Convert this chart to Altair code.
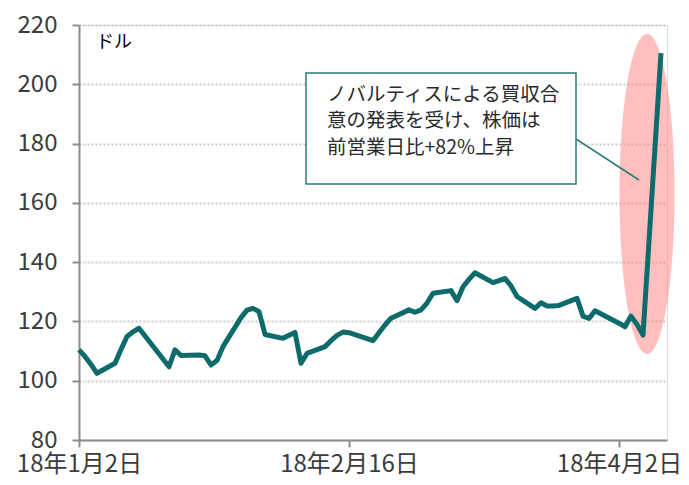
import altair as alt
import pandas as pd

# ---- data ----
dates = [
    "2018-01-02", "2018-01-03", "2018-01-04", "2018-01-05", "2018-01-08",
    "2018-01-09", "2018-01-10", "2018-01-11", "2018-01-12", "2018-01-16",
    "2018-01-17", "2018-01-18", "2018-01-19", "2018-01-22", "2018-01-23",
    "2018-01-24", "2018-01-25", "2018-01-26", "2018-01-29", "2018-01-30",
    "2018-01-31", "2018-02-01", "2018-02-02", "2018-02-05", "2018-02-06",
    "2018-02-07", "2018-02-08", "2018-02-09", "2018-02-12", "2018-02-13",
    "2018-02-14", "2018-02-15", "2018-02-16", "2018-02-20", "2018-02-21",
    "2018-02-22", "2018-02-23", "2018-02-26", "2018-02-27", "2018-02-28",
    "2018-03-01", "2018-03-02", "2018-03-05", "2018-03-06", "2018-03-07",
    "2018-03-08", "2018-03-09", "2018-03-12", "2018-03-13", "2018-03-14",
    "2018-03-15", "2018-03-16", "2018-03-19", "2018-03-20", "2018-03-21",
    "2018-03-22", "2018-03-23", "2018-03-26", "2018-03-27", "2018-03-28",
    "2018-03-29", "2018-04-02", "2018-04-03", "2018-04-04", "2018-04-05",
    "2018-04-06", "2018-04-09",
]
prices = [
    110.4, 108.2, 105.5, 102.5, 105.9,
    110.5, 114.9, 116.5, 117.7, 107.3,
    104.7, 110.4, 108.5, 108.7, 108.4,
    105.3, 106.8, 111.5, 121.3, 123.8,
    124.4, 123.3, 115.6, 114.3, 115.3,
    116.3, 105.9, 109.2, 111.5, 113.5,
    115.3, 116.4, 116.2, 113.5, 116.2,
    118.8, 121.1, 123.9, 123.1, 123.9,
    126.2, 129.5, 130.4, 127.0, 131.7,
    134.2, 136.4, 133.1, 133.8, 134.5,
    132.0, 128.4, 124.4, 126.3, 125.2,
    125.2, 125.4, 127.8, 121.8, 121.0,
    123.6, 119.4, 118.2, 121.8, 119.0,
    115.4, 210.5,
]
x_tick_dates = ["2018-01-02", "2018-02-16", "2018-04-02"]
x_domain_dates = ["2018-01-02", "2018-04-10"]
y_ticks = [80, 100, 120, 140, 160, 180, 200, 220]
unit_label = "ドル"
note_lines = ["ノバルティスによる買収合", "意の発表を受け、株価は", "前営業日比+82%上昇"]

# ---- styling ----
TEAL = "#0e6b6c"
BOX_TEAL = "#2d7b79"
FONT = "Noto Sans CJK JP"
W, H = 588, 415


def ms(d):
    return int(pd.Timestamp(d, tz="UTC").value // 10**6)


df = pd.DataFrame({"date": dates, "price": prices})
one = pd.DataFrame({"k": [0]})

x_enc = alt.X(
    "date:T",
    scale=alt.Scale(type="utc", domain=[ms(d) for d in x_domain_dates], nice=False),
    axis=alt.Axis(
        values=[ms(d) for d in x_tick_dates],
        labelExpr="utcFormat(datum.value, '%y') + '年' + (utcmonth(datum.value) + 1) + '月' + utcdate(datum.value) + '日'",
        title=None,
        grid=False,
        domainColor="#8c8c8c",
        domainWidth=2,
        tickColor="#8c8c8c",
        tickWidth=2,
        tickSize=7,
        labelFontSize=24,
        labelFont=FONT,
        labelColor="#3c3c3c",
        labelPadding=5,
        labelOverlap=False,
        labelFlush=False,
    ),
)
y_enc = alt.Y(
    "price:Q",
    scale=alt.Scale(domain=[80, 220], nice=False, zero=False),
    axis=alt.Axis(
        values=y_ticks,
        title=None,
        grid=True,
        gridColor="#cccccc",
        gridWidth=2,
        gridDash=[2, 2],
        domainColor="#8c8c8c",
        domainWidth=2,
        tickColor="#8c8c8c",
        tickWidth=2,
        tickSize=7,
        labelFontSize=24,
        labelFont=FONT,
        labelColor="#3c3c3c",
        labelPadding=15,
    ),
)

line = alt.Chart(df).mark_line(
    color=TEAL, strokeWidth=5, strokeJoin="round"
).encode(x=x_enc, y=y_enc)

# highlight ellipse (custom symbol, unit box -1..1)
rx, k = 0.172, 0.5523
ell_path = (
    f"M 0 -1 C {k*rx:.4f} -1 {rx} {-k:.4f} {rx} 0 "
    f"C {rx} {k:.4f} {k*rx:.4f} 1 0 1 "
    f"C {-k*rx:.4f} 1 {-rx} {k:.4f} {-rx} 0 "
    f"C {-rx} {-k:.4f} {-k*rx:.4f} -1 0 -1 Z"
)
ellipse = alt.Chart(one).mark_point(
    shape=ell_path, filled=True, color="#ff8080", opacity=0.5, size=320 * 320, strokeWidth=0
).encode(x=alt.value(568), y=alt.value(169))

connector = alt.Chart(one).mark_rule(color=BOX_TEAL, strokeWidth=1.5).encode(
    x=alt.value(497), y=alt.value(114), x2=alt.value(560), y2=alt.value(155)
)

box = alt.Chart(one).mark_rect(
    fill="white", stroke=BOX_TEAL, strokeWidth=1.5
).encode(x=alt.value(227), x2=alt.value(497), y=alt.value(48), y2=alt.value(159))

note = alt.Chart(one).mark_text(
    text=note_lines, align="left", baseline="middle", fontSize=19.5, lineHeight=26.3,
    font=FONT, color="#2a2a2a"
).encode(x=alt.value(248), y=alt.value(70))

unit = alt.Chart(one).mark_text(
    text=unit_label, align="left", baseline="middle", fontSize=18, font=FONT, color="#000000"
).encode(x=alt.value(17), y=alt.value(18))

chart = alt.layer(ellipse, box, connector, note, unit, line).properties(
    width=W,
    height=H,
    autosize=alt.AutoSizeParams(type="none"),
    padding={"left": 71, "top": 17, "right": 14, "bottom": 37},
).configure_view(stroke=None).configure(background="white")

chart.save("out.html", embed_options={"renderer": "svg", "actions": False})
